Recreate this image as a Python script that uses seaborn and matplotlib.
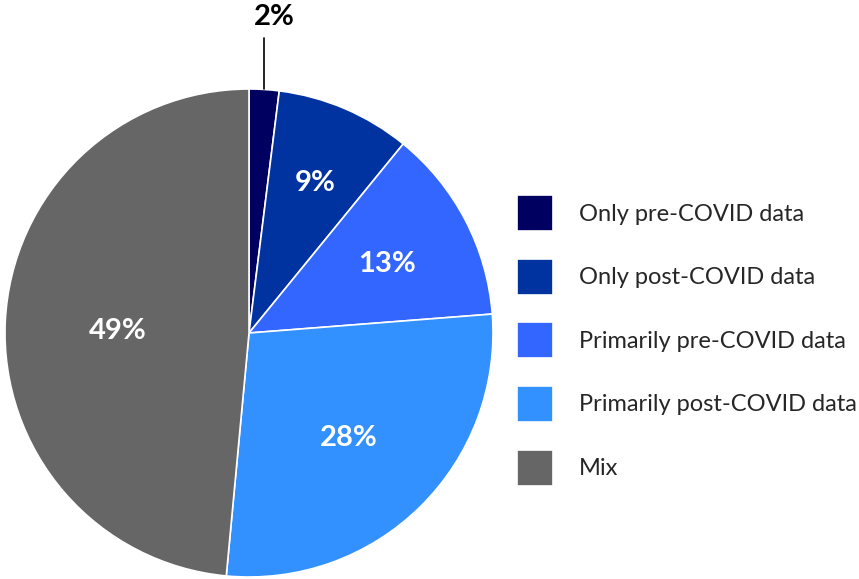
import matplotlib
matplotlib.use('Agg')
import numpy as np
import matplotlib.pyplot as plt
import seaborn as sns

# Share of studies by data period used

categories = ['Only pre-COVID data', 'Only post-COVID data', 'Primarily pre-COVID data',
              'Primarily post-COVID data', 'Mix']
shares = [2, 9, 13, 28, 49]
pct_labels = ['2%', '9%', '13%', '28%', '49%']
colors = ['#000060', '#0033a0', '#3366ff', '#3390ff', '#666666']

sns.set_theme(style='white')
plt.rcParams['font.family'] = ['Lato', 'DejaVu Sans']

fig = plt.figure(figsize=(8.59, 5.79), dpi=100)
ax = fig.add_axes([5 / 859, 2 / 579, 488 / 859, 488 / 579])

wedges, _ = ax.pie(shares, colors=colors, startangle=90, counterclock=False,
                   radius=1, wedgeprops=dict(edgecolor='white', linewidth=1.2))
ax.set_xlim(-1, 1)
ax.set_ylim(-1, 1)
ax.set_aspect('equal')
ax.axis('off')

# label distance from centre for each wedge (in radius units)
label_r = [None, 0.685, 0.64, 0.585, 0.538]
for w, lab, r in zip(wedges, pct_labels, label_r):
    mid = np.deg2rad((w.theta1 + w.theta2) / 2)
    if r is None:
        # small slice: label outside with leader line
        x = np.cos(mid)
        ax.plot([x, x], [1.0, 1.21], color='black', lw=1.2, clip_on=False)
        ax.text(x + 0.04, 1.295, lab, ha='center', va='center', fontsize=21,
                fontweight='bold', color='black', clip_on=False)
    else:
        ax.text(r * np.cos(mid), r * np.sin(mid) - 0.015, lab, ha='center', va='center',
                fontsize=21, fontweight='bold', color='white')

fig.legend(wedges, categories, loc='upper left', bbox_to_anchor=(517 / 859, 1 - 195 / 579),
           frameon=False, fontsize=17, handlelength=1.52, handleheight=1.97,
           handletextpad=1.1, labelspacing=1.17, borderpad=0, borderaxespad=0)

plt.savefig('out.png', dpi=100)
